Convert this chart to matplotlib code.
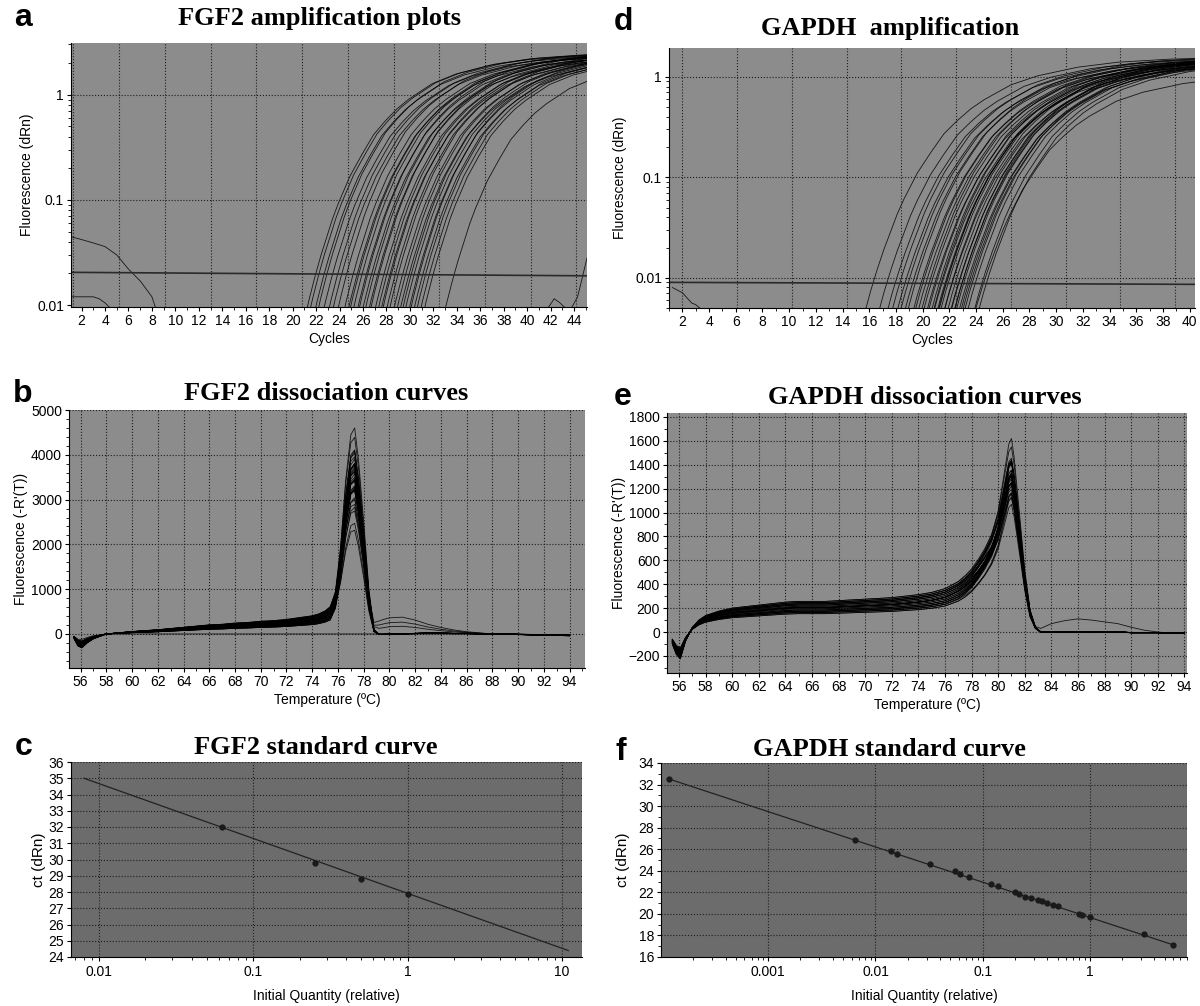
import matplotlib
matplotlib.use('Agg')
import matplotlib.pyplot as plt
import numpy as np
from matplotlib.ticker import MultipleLocator, NullFormatter

plt.rcParams['font.family'] = ['Liberation Sans', 'DejaVu Sans']
plt.rcParams['font.size'] = 10

# ---- amplification plots ---------------------------------------------------
# typical trace: cycles relative to the threshold crossing
# and fluorescence as a fraction of the plateau
amp_rel_cycles = [-3, -2, -1, -0.5, 0, 0.5, 1, 1.5, 2, 3, 4, 5, 6, 7, 8,
                  10, 12, 15, 18, 22, 26]
amp_profile = [0.00014, 0.0007, 0.0026, 0.0046, 0.0076, 0.012, 0.018, 0.027,
               0.038, 0.069, 0.11, 0.17, 0.23, 0.30, 0.37, 0.52, 0.64, 0.78,
               0.875, 0.94, 0.97]

fgf2_ct = [21.9, 22.2, 22.6, 22.9, 23.3, 23.8, 24.1, 24.6, 25.1, 25.4, 25.6,
           25.9, 26.2, 26.4, 26.6, 26.9, 27.2, 27.4, 27.7, 28.0, 28.2, 28.4,
           28.7, 29.0, 29.3, 29.6, 29.8, 30.1, 30.3, 30.6, 30.8, 31.0, 31.3,
           31.6, 31.9, 33.6]
fgf2_plateau = [2.45, 2.5, 2.4, 2.55, 2.35, 2.5, 2.4, 2.6, 2.45, 2.35, 2.5,
                2.55, 2.4, 2.6, 2.3, 2.5, 2.45, 2.65, 2.4, 2.5, 2.35, 2.55,
                2.45, 2.6, 2.4, 2.5, 2.3, 2.55, 2.45, 2.4, 2.6, 2.35, 2.5,
                2.45, 2.4, 2.2]
fgf2_threshold = [0.0205, 0.0190]
fgf2_noise_cycles = [[1, 2, 3, 4, 5, 6, 7, 8, 8.3],
                     [1, 2, 3, 3.5, 4, 4.4],
                     [41.8, 42.3, 42.8, 43.2],
                     [43.8, 44.3, 45.1]]
fgf2_noise_values = [[0.045, 0.042, 0.039, 0.036, 0.030, 0.022, 0.017, 0.012, 0.0095],
                     [0.012, 0.012, 0.012, 0.0115, 0.0105, 0.0095],
                     [0.0095, 0.0115, 0.0105, 0.0095],
                     [0.0095, 0.012, 0.028]]

gapdh_ct = [16.6, 17.6, 18.2, 18.6, 18.9, 19.2, 19.5, 19.8, 20.1, 20.3, 20.5,
            20.8, 21.1, 21.3, 21.5, 21.7, 21.9, 22.0, 22.2, 22.4, 22.5, 22.7,
            22.9, 23.0, 23.2, 23.4, 23.5, 23.7, 23.8, 24.0, 24.2, 24.5, 24.7,
            25.0, 22.1, 21.6, 23.3, 20.9]
gapdh_plateau = [1.6, 1.55, 1.5, 1.6, 1.45, 1.55, 1.5, 1.65, 1.45, 1.55, 1.5,
                 1.6, 1.4, 1.55, 1.5, 1.6, 1.45, 1.5, 1.55, 1.4, 1.6, 1.5,
                 1.45, 1.55, 1.5, 1.6, 1.4, 1.5, 1.45, 1.55, 1.5, 1.1, 1.5,
                 1.45, 1.6, 1.35, 1.65, 1.5]
gapdh_threshold = [0.0090, 0.0086]
gapdh_noise_cycles = [1.25, 2.0, 2.7, 3.0, 3.3]
gapdh_noise_values = [0.0080, 0.0071, 0.0056, 0.0054, 0.0050]

# ---- dissociation curves ---------------------------------------------------
fgf2_temp = [55.5, 55.8, 56.1, 56.5, 57, 57.5, 58, 59, 60, 61, 62, 63, 64, 65,
             66, 67, 68, 69, 70, 71, 72, 73, 74, 74.5, 75, 75.4, 75.8, 76.2,
             76.6, 77.0, 77.3, 77.6, 78.0, 78.4, 78.8, 79.2, 79.6, 80, 81, 82,
             83, 84, 85, 86, 87, 88, 89, 90, 91, 92, 93, 94]
fgf2_base = [-80, -200, -230, -150, -80, -40, 0, 20, 40, 55, 70, 90, 110, 130,
             150, 160, 180, 190, 210, 220, 240, 270, 300, 330, 380, 450, 480,
             470, 420, 360, 300, 230, 150, 70, 10, -10, -10, 0, 5, 10, 15, 15,
             10, 10, 5, 0, 0, -10, -15, -20, -25, -30]
fgf2_peak = [0, 0, 0, 0, 0, 0, 0, 0, 0, 0, 0, 0, 0, 0, 0, 0, 0, 0, 0, 0, 0, 0,
             0, 0, 0, 0, 0.08, 0.33, 0.7, 0.95, 1.0, 0.85, 0.55, 0.22, 0.02, 0,
             0, 0, 0, 0, 0, 0, 0, 0, 0, 0, 0, 0, 0, 0, 0, 0]
fgf2_bump = [0, 0, 0, 0, 0, 0, 0, 0, 0, 0, 0, 0, 0, 0, 0, 0, 0, 0, 0, 0, 0, 0,
             0, 0, 0, 0, 0, 0, 0, 0, 0, 0, 0, 60, 180, 300, 340, 360, 370, 300,
             200, 130, 80, 40, 20, 0, 0, 0, 0, 0, 0, 0]
fgf2_heights = [4300, 4000, 3850, 3700, 3600, 3550, 3500, 3450, 3400, 3350,
                3300, 3250, 3200, 3150, 3100, 3050, 3000, 2950, 2900, 2850,
                2800, 2700, 2600, 2500, 2400, 2200, 2000, 3650, 3750, 3300,
                3100, 2900, 3400, 3550]
fgf2_base_scale = [1.0, 1.3, 0.8, 1.15, 0.7, 1.35, 1.0, 0.9, 1.2, 0.75, 1.1,
                   1.3, 0.85, 1.0, 1.15, 0.7, 1.35, 0.9, 1.05, 1.25, 0.8, 1.0,
                   0.75, 1.3, 1.15, 0.9, 1.05, 0.85, 1.2, 1.1, 0.7, 1.25, 0.95,
                   0.8]
fgf2_bump_heights = [3200, 2900, 3500]
fgf2_bump_scale = [1.0, 0.7, 0.45]
fgf2_flat = [-60, -120, -120, -80, -40, -20, 0, 0, 0, 0, 0, 0, 0, 0, 0, 0, 0,
             0, 0, 0, 0, 0, 0, 0, 0, 0, 0, 0, 0, 0, 0, 0, 0, 0, 0, 0, 0, 0, 0,
             0, 0, 0, 0, 0, 0, 0, 0, -10, -10, -15, -20, -25]

gapdh_temp = [55.5, 55.8, 56.1, 56.5, 57, 57.5, 58, 59, 60, 61, 62, 63, 64, 65,
              66, 67, 68, 69, 70, 71, 72, 73, 74, 75, 76, 76.5, 77, 77.5, 78,
              78.5, 79, 79.5, 80, 80.4, 80.8, 81.0, 81.2, 81.6, 82.0, 82.4,
              82.8, 83.2, 84, 85, 86, 87, 88, 89, 90, 91, 92, 93, 94]
gapdh_base = [-80, -150, -180, -60, 30, 80, 110, 140, 160, 170, 180, 190, 200,
              205, 205, 205, 210, 215, 220, 225, 230, 240, 250, 265, 290, 305,
              320, 340, 350, 360, 360, 350, 330, 310, 280, 260, 240, 180, 110,
              50, 15, 0, 0, 0, 0, 0, 0, 0, -5, -5, -5, -10, -10]
gapdh_peak = [0, 0, 0, 0, 0, 0, 0, 0, 0, 0, 0, 0, 0, 0, 0, 0, 0, 0, 0, 0, 0, 0,
              0, 0, 0, 0.01, 0.02, 0.04, 0.08, 0.14, 0.22, 0.33, 0.5, 0.72,
              0.95, 1.0, 0.9, 0.6, 0.3, 0.1, 0.02, 0, 0, 0, 0, 0, 0, 0, 0, 0,
              0, 0, 0]
gapdh_tail = [0, 0, 0, 0, 0, 0, 0, 0, 0, 0, 0, 0, 0, 0, 0, 0, 0, 0, 0, 0, 0, 0,
              0, 0, 0, 0, 0, 0, 0, 0, 0, 0, 0, 0, 0, 0, 0, 0, 0, 0, 10, 30, 70,
              95, 110, 100, 85, 70, 45, 20, 5, 0, 0]
gapdh_heights = [1360, 1250, 1200, 1150, 1120, 1100, 1080, 1050, 1030, 1000,
                 980, 960, 940, 920, 900, 880, 860, 840, 1180, 1130, 1070,
                 1010, 950, 1220, 1160, 1090, 1040, 990, 930, 1140, 1060, 1000,
                 1110, 1020]
gapdh_base_scale = [1.0, 1.15, 0.85, 1.1, 0.8, 1.2, 0.9, 1.0, 1.25, 0.85, 1.05,
                    0.75, 1.15, 0.95, 1.0, 1.2, 0.8, 1.1, 0.9, 1.25, 1.0, 0.9,
                    1.15, 0.8, 1.05, 0.85, 1.2, 1.0, 0.75, 1.15, 0.95, 1.1, 0.85,
                    1.0]
gapdh_tail_height = 1050

# ---- standard curves -------------------------------------------------------
fgf2_qty = [0.0625, 0.25, 0.5, 1.0]
fgf2_std_ct = [32.0, 29.8, 28.8, 27.9]
fgf2_fit_qty = [0.008, 11.0]
fgf2_fit_ct = [35.0, 24.4]

gapdh_qty = [0.00012, 0.0065, 0.014, 0.016, 0.032, 0.055, 0.062, 0.075, 0.12,
             0.14, 0.2, 0.22, 0.25, 0.28, 0.33, 0.36, 0.4, 0.45, 0.5, 0.8,
             0.85, 1.0, 3.2, 6.0]
gapdh_std_ct = [32.5, 26.9, 25.8, 25.6, 24.6, 24.0, 23.7, 23.4, 22.8, 22.6,
                22.0, 21.8, 21.6, 21.5, 21.3, 21.2, 21.0, 20.8, 20.7, 20.0,
                19.9, 19.7, 18.1, 17.1]
gapdh_fit_qty = [0.00012, 6.1]
gapdh_fit_ct = [32.5, 17.1]

W, H = 1200, 1006
BG = '#8c8c8c'
BG_DARK = '#6c6c6c'
GRID = dict(color='#1e1e1e', linestyle=':', linewidth=0.8)
TRACE = dict(color='black', linewidth=0.6, alpha=0.85)

fig = plt.figure(figsize=(W / 100, H / 100), dpi=100)


def panel(left, top, right, bottom, bg):
    ax = fig.add_axes([left / W, 1 - bottom / H, (right - left) / W,
                       (bottom - top) / H])
    ax.set_facecolor(bg)
    ax.spines['top'].set_visible(False)
    ax.spines['right'].set_visible(False)
    ax.tick_params(direction='out', length=3, width=0.8, labelsize=10, pad=2)
    ax.tick_params(which='minor', length=2, width=0.6)
    ax.set_axisbelow(True)
    return ax


def letter(x, y, text):
    fig.text(x / W, 1 - y / H, text, fontsize=23, fontweight='bold',
             ha='left', va='center')


def title(x, y, text):
    fig.text(x / W, 1 - y / H, text, fontsize=19, fontweight='bold',
             family='Liberation Serif', ha='center', va='center')


# a: FGF2 amplification
ax = panel(71, 43, 587, 307, BG)
ax.set_yscale('log')
for ct, top in zip(fgf2_ct, fgf2_plateau):
    ax.plot(np.add(amp_rel_cycles, ct), np.multiply(amp_profile, top), **TRACE)
for cx, cy in zip(fgf2_noise_cycles, fgf2_noise_values):
    ax.plot(cx, cy, **TRACE)
ax.plot([1.1, 45.1], fgf2_threshold, color='#2a2a2a', linewidth=1.2)
ax.set_xlim(1.1, 45.1)
ax.set_ylim(0.0096, 3.1)
ax.set_xticks(range(2, 45, 2))
ax.xaxis.set_minor_locator(MultipleLocator(1))
ax.set_yticks([0.01, 0.1, 1])
ax.set_yticklabels(['0.01', '0.1', '1'])
ax.yaxis.set_minor_formatter(NullFormatter())
for gx in np.arange(1.3, 45, 3.9):
    ax.axvline(gx, **GRID)
for gy in [0.1, 1]:
    ax.axhline(gy, **GRID)
ax.set_xlabel('Cycles', labelpad=3)
ax.set_ylabel('Fluorescence (dRn)', labelpad=2)
letter(14, 18, 'a')
title(320, 19, 'FGF2 amplification plots')

# d: GAPDH amplification
ax = panel(669, 48, 1195, 308, BG)
ax.set_yscale('log')
for ct, top in zip(gapdh_ct, gapdh_plateau):
    ax.plot(np.add(amp_rel_cycles, ct), np.multiply(amp_profile, top), **TRACE)
ax.plot(gapdh_noise_cycles, gapdh_noise_values, **TRACE)
ax.plot([1.0, 40.4], gapdh_threshold, color='#2a2a2a', linewidth=1.2)
ax.set_xlim(1.0, 40.4)
ax.set_ylim(0.005, 1.94)
ax.set_xticks(range(2, 41, 2))
ax.xaxis.set_minor_locator(MultipleLocator(1))
ax.set_yticks([0.01, 0.1, 1])
ax.set_yticklabels(['0.01', '0.1', '1'])
ax.yaxis.set_minor_formatter(NullFormatter())
for gx in np.arange(2.0, 40.4, 4.1):
    ax.axvline(gx, **GRID)
for gy in [0.01, 0.1, 1]:
    ax.axhline(gy, **GRID)
ax.set_xlabel('Cycles', labelpad=3)
ax.set_ylabel('Fluorescence (dRn)', labelpad=6)
letter(614, 22, 'd')
title(890, 28, 'GAPDH  amplification')

# b: FGF2 dissociation
ax = panel(69, 410, 585, 668, BG)
for h, s in zip(fgf2_heights, fgf2_base_scale):
    ax.plot(fgf2_temp, np.multiply(fgf2_base, s) + np.multiply(fgf2_peak, h),
            **TRACE)
for h, s in zip(fgf2_bump_heights, fgf2_bump_scale):
    ax.plot(fgf2_temp, np.add(fgf2_base, np.multiply(fgf2_bump, s))
            + np.multiply(fgf2_peak, h), **TRACE)
ax.plot(fgf2_temp, fgf2_flat, **TRACE)
ax.set_xlim(55.1, 95.2)
ax.set_ylim(-760, 5000)
ax.set_xticks(range(56, 95, 2))
ax.xaxis.set_minor_locator(MultipleLocator(1))
ax.set_yticks(range(0, 5001, 1000))
ax.yaxis.set_minor_locator(MultipleLocator(200))
ax.grid(True, which='major', **GRID)
ax.set_xlabel('Temperature (ºC)', labelpad=3)
ax.set_ylabel("Fluorescence (-R'(T))", labelpad=2)
letter(13, 394, 'b')
title(326, 393, 'FGF2 dissociation curves')

# e: GAPDH dissociation
ax = panel(667, 413, 1187, 673, BG)
for h, s in zip(gapdh_heights, gapdh_base_scale):
    ax.plot(gapdh_temp, np.multiply(gapdh_base, s) + np.multiply(gapdh_peak, h),
            **TRACE)
ax.plot(gapdh_temp, np.add(gapdh_base, gapdh_tail)
        + np.multiply(gapdh_peak, gapdh_tail_height), **TRACE)
ax.set_xlim(55.1, 94.2)
ax.set_ylim(-343, 1833)
ax.set_xticks(range(56, 95, 2))
ax.xaxis.set_minor_locator(MultipleLocator(1))
ax.set_yticks(range(-200, 1801, 200))
ax.yaxis.set_minor_locator(MultipleLocator(100))
ax.grid(True, which='major', **GRID)
ax.set_xlabel('Temperature (ºC)', labelpad=3)
ax.set_ylabel("Fluorescence (-R'(T))", labelpad=2)
letter(614, 397, 'e')
title(925, 397, 'GAPDH dissociation curves')

# c: FGF2 standard curve
ax = panel(71, 762, 582, 957, BG_DARK)
ax.set_xscale('log')
ax.plot(fgf2_fit_qty, fgf2_fit_ct, color='#222222', linewidth=0.9)
ax.plot(fgf2_qty, fgf2_std_ct, 'o', color='#1a1a1a', markersize=3.5)
ax.set_xlim(0.0066, 13.5)
ax.set_ylim(24, 36)
ax.set_yticks(range(24, 37))
ax.set_xticks([0.01, 0.1, 1, 10])
ax.set_xticklabels(['0.01', '0.1', '1', '10'])
ax.xaxis.set_minor_formatter(NullFormatter())
ax.tick_params(axis='x', pad=3)
ax.grid(True, which='major', **GRID)
ax.set_xlabel('Initial Quantity (relative)', labelpad=7)
ax.set_ylabel('ct (dRn)', fontsize=11, labelpad=2)
letter(15, 747, 'c')
title(316, 747, 'FGF2 standard curve')

# f: GAPDH standard curve
ax = panel(661, 763, 1187, 957, BG_DARK)
ax.set_xscale('log')
ax.plot(gapdh_fit_qty, gapdh_fit_ct, color='#222222', linewidth=0.9)
ax.plot(gapdh_qty, gapdh_std_ct, 'o', color='#1a1a1a', markersize=3.5)
ax.set_xlim(0.0001, 8.05)
ax.set_ylim(16, 34)
ax.set_yticks(range(16, 35, 2))
ax.yaxis.set_minor_locator(MultipleLocator(1))
ax.set_xticks([0.001, 0.01, 0.1, 1])
ax.set_xticklabels(['0.001', '0.01', '0.1', '1'])
ax.xaxis.set_minor_formatter(NullFormatter())
ax.tick_params(axis='x', pad=3)
ax.grid(True, which='major', **GRID)
ax.set_xlabel('Initial Quantity (relative)', labelpad=7)
ax.set_ylabel('ct (dRn)', fontsize=11, labelpad=6)
letter(615, 752, 'f')
title(889, 750, 'GAPDH standard curve')

fig.savefig('out.png', dpi=100)
